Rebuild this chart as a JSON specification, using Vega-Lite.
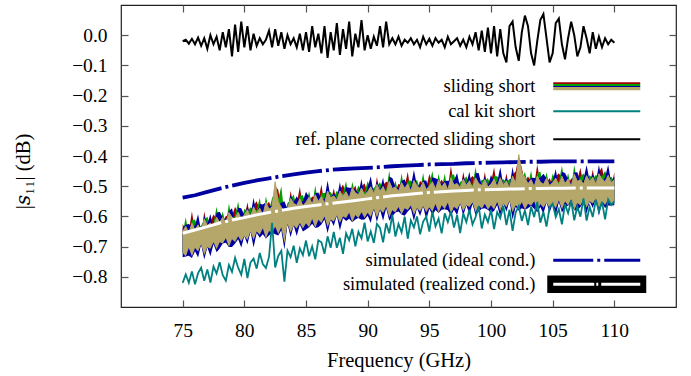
{
  "$schema": "https://vega.github.io/schema/vega-lite/v6.json",
  "autosize": "none",
  "width": 555,
  "height": 302,
  "padding": {"left": 121, "top": 5, "right": 15, "bottom": 69},
  "config": {
    "font": "Liberation Serif, Times New Roman, DejaVu Serif, serif",
    "view": {"stroke": "#222", "strokeWidth": 1.2},
    "axis": {"grid": false, "domain": false, "tickColor": "#555", "tickWidth": 1.2, "labelColor": "#000", "titleColor": "#000", "labelFont": "Liberation Serif, Times New Roman, DejaVu Serif, serif", "titleFont": "Liberation Serif, Times New Roman, DejaVu Serif, serif"},
    "legend": {"labelFont": "Liberation Serif, Times New Roman, DejaVu Serif, serif", "orient": "none", "title": null, "padding": 0, "symbolSize": 100, "labelAlign": "right", "labelBaseline": "middle", "labelOffset": -70.5, "labelFontSize": 18.5, "labelColor": "#000", "labelLimit": 400, "rowPadding": 7, "symbolOpacity": 1}
  },
  "datasets": {
    "m": [
      {"f":75,"r":-0.020,"c":-0.820,"tl":-0.720,"th":-0.650,"rh":-0.625,"gh":-0.655,"bh":-0.640,"bl":-0.735},
      {"f":75.25,"r":-0.015,"c":-0.792,"tl":-0.733,"th":-0.633,"rh":-0.643,"gh":-0.603,"bh":-0.628,"bl":-0.733},
      {"f":75.5,"r":-0.028,"c":-0.820,"tl":-0.705,"th":-0.655,"rh":-0.650,"gh":-0.665,"bh":-0.625,"bl":-0.730},
      {"f":75.75,"r":-0.012,"c":-0.782,"tl":-0.733,"th":-0.623,"rh":-0.583,"gh":-0.613,"bh":-0.633,"bl":-0.738},
      {"f":76,"r":-0.030,"c":-0.825,"tl":-0.705,"th":-0.645,"rh":-0.650,"gh":-0.610,"bh":-0.630,"bl":-0.715},
      {"f":76.25,"r":-0.008,"c":-0.788,"tl":-0.716,"th":-0.628,"rh":-0.613,"gh":-0.638,"bh":-0.593,"bl":-0.736},
      {"f":76.5,"r":-0.035,"c":-0.770,"tl":-0.693,"th":-0.650,"rh":-0.665,"gh":-0.630,"bh":-0.650,"bl":-0.693},
      {"f":76.75,"r":-0.010,"c":-0.813,"tl":-0.728,"th":-0.608,"rh":-0.583,"gh":-0.613,"bh":-0.598,"bl":-0.743},
      {"f":77,"r":-0.045,"c":-0.776,"tl":-0.702,"th":-0.630,"rh":-0.640,"gh":-0.600,"bh":-0.625,"bl":-0.702},
      {"f":77.25,"r":0.000,"c":-0.819,"tl":-0.707,"th":-0.622,"rh":-0.617,"gh":-0.632,"bh":-0.592,"bl":-0.732},
      {"f":77.5,"r":-0.030,"c":-0.766,"tl":-0.686,"th":-0.634,"rh":-0.594,"gh":-0.624,"bh":-0.644,"bl":-0.691},
      {"f":77.75,"r":-0.005,"c":-0.789,"tl":-0.709,"th":-0.603,"rh":-0.608,"gh":-0.568,"bh":-0.588,"bl":-0.719},
      {"f":78,"r":-0.050,"c":-0.752,"tl":-0.686,"th":-0.620,"rh":-0.605,"gh":-0.630,"bh":-0.585,"bl":-0.706},
      {"f":78.25,"r":0.010,"c":-0.795,"tl":-0.690,"th":-0.603,"rh":-0.618,"gh":-0.583,"bh":-0.603,"bl":-0.690},
      {"f":78.5,"r":-0.040,"c":-0.813,"tl":-0.672,"th":-0.624,"rh":-0.599,"gh":-0.629,"bh":-0.614,"bl":-0.687},
      {"f":78.75,"r":0.020,"c":-0.761,"tl":-0.701,"th":-0.587,"rh":-0.597,"gh":-0.557,"bh":-0.582,"bl":-0.701},
      {"f":79,"r":-0.070,"c":-0.784,"tl":-0.676,"th":-0.603,"rh":-0.598,"gh":-0.613,"bh":-0.573,"bl":-0.701},
      {"f":79.25,"r":0.035,"c":-0.737,"tl":-0.685,"th":-0.608,"rh":-0.568,"gh":-0.598,"bh":-0.618,"bl":-0.690},
      {"f":79.5,"r":-0.055,"c":-0.770,"tl":-0.666,"th":-0.586,"rh":-0.591,"gh":-0.551,"bh":-0.571,"bl":-0.676},
      {"f":79.75,"r":0.045,"c":-0.793,"tl":-0.683,"th":-0.608,"rh":-0.593,"gh":-0.618,"bh":-0.573,"bl":-0.703},
      {"f":80,"r":-0.040,"c":-0.741,"tl":-0.665,"th":-0.595,"rh":-0.610,"gh":-0.575,"bh":-0.595,"bl":-0.665},
      {"f":80.25,"r":0.030,"c":-0.804,"tl":-0.678,"th":-0.578,"rh":-0.553,"gh":-0.583,"bh":-0.568,"bl":-0.693},
      {"f":80.5,"r":-0.050,"c":-0.752,"tl":-0.650,"th":-0.600,"rh":-0.610,"gh":-0.570,"bh":-0.595,"bl":-0.650},
      {"f":80.75,"r":0.005,"c":-0.740,"tl":-0.678,"th":-0.568,"rh":-0.563,"gh":-0.578,"bh":-0.538,"bl":-0.703},
      {"f":81,"r":-0.035,"c":-0.773,"tl":-0.650,"th":-0.590,"rh":-0.550,"gh":-0.580,"bh":-0.600,"bl":-0.655},
      {"f":81.25,"r":-0.010,"c":-0.721,"tl":-0.661,"th":-0.573,"rh":-0.578,"gh":-0.538,"bh":-0.558,"bl":-0.671},
      {"f":81.5,"r":-0.030,"c":-0.758,"tl":-0.639,"th":-0.596,"rh":-0.581,"gh":-0.606,"bh":-0.561,"bl":-0.659},
      {"f":81.75,"r":-0.015,"c":-0.771,"tl":-0.673,"th":-0.553,"rh":-0.568,"gh":-0.533,"bh":-0.553,"bl":-0.673},
      {"f":82,"r":0.015,"c":-0.734,"tl":-0.648,"th":-0.576,"rh":-0.551,"gh":-0.581,"bh":-0.566,"bl":-0.663},
      {"f":82.25,"r":-0.040,"c":-0.621,"tl":-0.654,"th":-0.569,"rh":-0.579,"gh":-0.539,"bh":-0.564,"bl":-0.654},
      {"f":82.5,"r":0.020,"c":-0.769,"tl":-0.634,"th":-0.485,"rh":-0.500,"gh":-0.520,"bh":-0.530,"bl":-0.659},
      {"f":82.75,"r":-0.035,"c":-0.731,"tl":-0.658,"th":-0.552,"rh":-0.512,"gh":-0.542,"bh":-0.562,"bl":-0.663},
      {"f":83,"r":0.010,"c":-0.714,"tl":-0.636,"th":-0.570,"rh":-0.575,"gh":-0.500,"bh":-0.555,"bl":-0.646},
      {"f":83.25,"r":-0.045,"c":-0.816,"tl":-0.690,"th":-0.585,"rh":-0.570,"gh":-0.595,"bh":-0.550,"bl":-0.710},
      {"f":83.5,"r":0.000,"c":-0.713,"tl":-0.624,"th":-0.576,"rh":-0.591,"gh":-0.556,"bh":-0.576,"bl":-0.624},
      {"f":83.75,"r":-0.030,"c":-0.735,"tl":-0.654,"th":-0.540,"rh":-0.515,"gh":-0.545,"bh":-0.530,"bl":-0.669},
      {"f":84,"r":-0.010,"c":-0.697,"tl":-0.630,"th":-0.557,"rh":-0.567,"gh":-0.527,"bh":-0.552,"bl":-0.630},
      {"f":84.25,"r":-0.040,"c":-0.754,"tl":-0.640,"th":-0.563,"rh":-0.558,"gh":-0.573,"bh":-0.533,"bl":-0.665},
      {"f":84.5,"r":0.005,"c":-0.706,"tl":-0.622,"th":-0.542,"rh":-0.502,"gh":-0.532,"bh":-0.552,"bl":-0.627},
      {"f":84.75,"r":-0.050,"c":-0.728,"tl":-0.640,"th":-0.565,"rh":-0.570,"gh":-0.530,"bh":-0.550,"bl":-0.650},
      {"f":85,"r":0.010,"c":-0.680,"tl":-0.623,"th":-0.553,"rh":-0.538,"gh":-0.563,"bh":-0.518,"bl":-0.643},
      {"f":85.25,"r":-0.055,"c":-0.732,"tl":-0.636,"th":-0.536,"rh":-0.551,"gh":-0.516,"bh":-0.536,"bl":-0.636},
      {"f":85.5,"r":0.030,"c":-0.699,"tl":-0.609,"th":-0.559,"rh":-0.534,"gh":-0.564,"bh":-0.549,"bl":-0.624},
      {"f":85.75,"r":-0.040,"c":-0.742,"tl":-0.638,"th":-0.528,"rh":-0.538,"gh":-0.498,"bh":-0.523,"bl":-0.638},
      {"f":86,"r":0.005,"c":-0.679,"tl":-0.611,"th":-0.551,"rh":-0.546,"gh":-0.561,"bh":-0.521,"bl":-0.636},
      {"f":86.25,"r":-0.060,"c":-0.686,"tl":-0.622,"th":-0.534,"rh":-0.494,"gh":-0.524,"bh":-0.544,"bl":-0.627},
      {"f":86.5,"r":0.030,"c":-0.724,"tl":-0.600,"th":-0.557,"rh":-0.562,"gh":-0.522,"bh":-0.542,"bl":-0.610},
      {"f":86.75,"r":-0.075,"c":-0.666,"tl":-0.636,"th":-0.516,"rh":-0.501,"gh":-0.526,"bh":-0.481,"bl":-0.656},
      {"f":87,"r":0.010,"c":-0.704,"tl":-0.611,"th":-0.539,"rh":-0.554,"gh":-0.519,"bh":-0.539,"bl":-0.611},
      {"f":87.25,"r":-0.050,"c":-0.651,"tl":-0.617,"th":-0.532,"rh":-0.507,"gh":-0.537,"bh":-0.522,"bl":-0.632},
      {"f":87.5,"r":0.040,"c":-0.704,"tl":-0.597,"th":-0.545,"rh":-0.555,"gh":-0.515,"bh":-0.540,"bl":-0.597},
      {"f":87.75,"r":-0.065,"c":-0.671,"tl":-0.622,"th":-0.516,"rh":-0.511,"gh":-0.526,"bh":-0.486,"bl":-0.647},
      {"f":88,"r":0.020,"c":-0.724,"tl":-0.600,"th":-0.534,"rh":-0.494,"gh":-0.524,"bh":-0.544,"bl":-0.605},
      {"f":88.25,"r":-0.045,"c":-0.656,"tl":-0.605,"th":-0.518,"rh":-0.523,"gh":-0.483,"bh":-0.503,"bl":-0.615},
      {"f":88.5,"r":0.045,"c":-0.679,"tl":-0.588,"th":-0.540,"rh":-0.525,"gh":-0.550,"bh":-0.505,"bl":-0.608},
      {"f":88.75,"r":-0.070,"c":-0.641,"tl":-0.619,"th":-0.505,"rh":-0.520,"gh":-0.485,"bh":-0.505,"bl":-0.619},
      {"f":89,"r":0.005,"c":-0.699,"tl":-0.595,"th":-0.522,"rh":-0.497,"gh":-0.527,"bh":-0.512,"bl":-0.610},
      {"f":89.25,"r":-0.040,"c":-0.651,"tl":-0.605,"th":-0.528,"rh":-0.538,"gh":-0.498,"bh":-0.523,"bl":-0.605},
      {"f":89.5,"r":0.050,"c":-0.673,"tl":-0.586,"th":-0.506,"rh":-0.501,"gh":-0.516,"bh":-0.476,"bl":-0.611},
      {"f":89.75,"r":-0.050,"c":-0.621,"tl":-0.605,"th":-0.530,"rh":-0.490,"gh":-0.520,"bh":-0.540,"bl":-0.610},
      {"f":90,"r":0.000,"c":-0.683,"tl":-0.588,"th":-0.518,"rh":-0.523,"gh":-0.483,"bh":-0.503,"bl":-0.598},
      {"f":90.25,"r":-0.045,"c":-0.650,"tl":-0.602,"th":-0.502,"rh":-0.487,"gh":-0.512,"bh":-0.467,"bl":-0.622},
      {"f":90.5,"r":-0.005,"c":-0.688,"tl":-0.575,"th":-0.525,"rh":-0.540,"gh":-0.505,"bh":-0.525,"bl":-0.575},
      {"f":90.75,"r":-0.035,"c":-0.625,"tl":-0.604,"th":-0.494,"rh":-0.469,"gh":-0.499,"bh":-0.484,"bl":-0.619},
      {"f":91,"r":0.030,"c":-0.638,"tl":-0.577,"th":-0.517,"rh":-0.527,"gh":-0.487,"bh":-0.512,"bl":-0.577},
      {"f":91.25,"r":-0.040,"c":-0.686,"tl":-0.589,"th":-0.501,"rh":-0.496,"gh":-0.511,"bh":-0.471,"bl":-0.614},
      {"f":91.5,"r":0.045,"c":-0.623,"tl":-0.568,"th":-0.525,"rh":-0.485,"gh":-0.515,"bh":-0.535,"bl":-0.573},
      {"f":91.75,"r":-0.030,"c":-0.656,"tl":-0.604,"th":-0.484,"rh":-0.489,"gh":-0.449,"bh":-0.469,"bl":-0.614},
      {"f":92,"r":-0.010,"c":-0.594,"tl":-0.580,"th":-0.508,"rh":-0.493,"gh":-0.518,"bh":-0.473,"bl":-0.600},
      {"f":92.25,"r":-0.030,"c":-0.667,"tl":-0.587,"th":-0.502,"rh":-0.517,"gh":-0.482,"bh":-0.502,"bl":-0.587},
      {"f":92.5,"r":-0.005,"c":-0.625,"tl":-0.569,"th":-0.517,"rh":-0.492,"gh":-0.522,"bh":-0.507,"bl":-0.584},
      {"f":92.75,"r":-0.035,"c":-0.653,"tl":-0.594,"th":-0.488,"rh":-0.498,"gh":-0.458,"bh":-0.483,"bl":-0.594},
      {"f":93,"r":-0.015,"c":-0.601,"tl":-0.573,"th":-0.507,"rh":-0.502,"gh":-0.517,"bh":-0.477,"bl":-0.598},
      {"f":93.25,"r":-0.025,"c":-0.674,"tl":-0.579,"th":-0.492,"rh":-0.452,"gh":-0.482,"bh":-0.502,"bl":-0.584},
      {"f":93.5,"r":-0.010,"c":-0.613,"tl":-0.564,"th":-0.516,"rh":-0.521,"gh":-0.481,"bh":-0.501,"bl":-0.574},
      {"f":93.75,"r":-0.030,"c":-0.636,"tl":-0.595,"th":-0.481,"rh":-0.466,"gh":-0.491,"bh":-0.446,"bl":-0.615},
      {"f":94,"r":-0.015,"c":-0.600,"tl":-0.572,"th":-0.499,"rh":-0.514,"gh":-0.479,"bh":-0.499,"bl":-0.572},
      {"f":94.25,"r":-0.040,"c":-0.659,"tl":-0.584,"th":-0.507,"rh":-0.482,"gh":-0.512,"bh":-0.497,"bl":-0.599},
      {"f":94.5,"r":-0.005,"c":-0.617,"tl":-0.566,"th":-0.486,"rh":-0.496,"gh":-0.456,"bh":-0.481,"bl":-0.566},
      {"f":94.75,"r":-0.030,"c":-0.601,"tl":-0.586,"th":-0.511,"rh":-0.506,"gh":-0.521,"bh":-0.481,"bl":-0.611},
      {"f":95,"r":-0.012,"c":-0.650,"tl":-0.570,"th":-0.500,"rh":-0.460,"gh":-0.490,"bh":-0.510,"bl":-0.575},
      {"f":95.25,"r":-0.035,"c":-0.584,"tl":-0.585,"th":-0.485,"rh":-0.490,"gh":-0.450,"bh":-0.470,"bl":-0.595},
      {"f":95.5,"r":-0.010,"c":-0.633,"tl":-0.559,"th":-0.509,"rh":-0.494,"gh":-0.519,"bh":-0.474,"bl":-0.579},
      {"f":95.75,"r":-0.025,"c":-0.607,"tl":-0.589,"th":-0.479,"rh":-0.494,"gh":-0.459,"bh":-0.479,"bl":-0.589},
      {"f":96,"r":-0.015,"c":-0.656,"tl":-0.563,"th":-0.503,"rh":-0.478,"gh":-0.508,"bh":-0.493,"bl":-0.578},
      {"f":96.25,"r":-0.040,"c":-0.590,"tl":-0.576,"th":-0.488,"rh":-0.498,"gh":-0.458,"bh":-0.483,"bl":-0.576},
      {"f":96.5,"r":-0.005,"c":-0.619,"tl":-0.555,"th":-0.512,"rh":-0.507,"gh":-0.522,"bh":-0.482,"bl":-0.580},
      {"f":96.75,"r":-0.030,"c":-0.583,"tl":-0.592,"th":-0.472,"rh":-0.432,"gh":-0.462,"bh":-0.482,"bl":-0.597},
      {"f":97,"r":-0.020,"c":-0.637,"tl":-0.568,"th":-0.496,"rh":-0.501,"gh":-0.461,"bh":-0.481,"bl":-0.578},
      {"f":97.25,"r":-0.010,"c":-0.596,"tl":-0.576,"th":-0.491,"rh":-0.476,"gh":-0.501,"bh":-0.456,"bl":-0.596},
      {"f":97.5,"r":-0.035,"c":-0.655,"tl":-0.557,"th":-0.505,"rh":-0.520,"gh":-0.485,"bh":-0.505,"bl":-0.557},
      {"f":97.75,"r":-0.015,"c":-0.590,"tl":-0.583,"th":-0.477,"rh":-0.452,"gh":-0.482,"bh":-0.467,"bl":-0.598},
      {"f":98,"r":-0.040,"c":-0.619,"tl":-0.563,"th":-0.497,"rh":-0.507,"gh":-0.467,"bh":-0.492,"bl":-0.563},
      {"f":98.25,"r":-0.005,"c":-0.578,"tl":-0.569,"th":-0.482,"rh":-0.477,"gh":-0.492,"bh":-0.452,"bl":-0.594},
      {"f":98.5,"r":-0.030,"c":-0.627,"tl":-0.554,"th":-0.506,"rh":-0.466,"gh":-0.496,"bh":-0.516,"bl":-0.559},
      {"f":98.75,"r":0.010,"c":-0.602,"tl":-0.586,"th":-0.472,"rh":-0.477,"gh":-0.437,"bh":-0.457,"bl":-0.596},
      {"f":99,"r":-0.050,"c":-0.566,"tl":-0.564,"th":-0.491,"rh":-0.476,"gh":-0.501,"bh":-0.456,"bl":-0.584},
      {"f":99.25,"r":0.015,"c":-0.640,"tl":-0.575,"th":-0.498,"rh":-0.513,"gh":-0.478,"bh":-0.498,"bl":-0.575},
      {"f":99.5,"r":-0.055,"c":-0.594,"tl":-0.558,"th":-0.478,"rh":-0.453,"gh":-0.483,"bh":-0.468,"bl":-0.573},
      {"f":99.75,"r":0.025,"c":-0.619,"tl":-0.578,"th":-0.503,"rh":-0.513,"gh":-0.473,"bh":-0.498,"bl":-0.578},
      {"f":100,"r":-0.060,"c":-0.578,"tl":-0.563,"th":-0.493,"rh":-0.488,"gh":-0.503,"bh":-0.463,"bl":-0.588},
      {"f":100.25,"r":0.030,"c":-0.642,"tl":-0.577,"th":-0.477,"rh":-0.437,"gh":-0.467,"bh":-0.487,"bl":-0.582},
      {"f":100.5,"r":-0.070,"c":-0.586,"tl":-0.552,"th":-0.502,"rh":-0.507,"gh":-0.467,"bh":-0.487,"bl":-0.562},
      {"f":100.75,"r":0.020,"c":-0.606,"tl":-0.582,"th":-0.472,"rh":-0.457,"gh":-0.482,"bh":-0.437,"bl":-0.602},
      {"f":101,"r":-0.060,"c":-0.565,"tl":-0.557,"th":-0.497,"rh":-0.512,"gh":-0.477,"bh":-0.497,"bl":-0.557},
      {"f":101.25,"r":-0.090,"c":-0.629,"tl":-0.570,"th":-0.482,"rh":-0.457,"gh":-0.487,"bh":-0.472,"bl":-0.585},
      {"f":101.5,"r":0.030,"c":-0.578,"tl":-0.549,"th":-0.506,"rh":-0.516,"gh":-0.476,"bh":-0.501,"bl":-0.549},
      {"f":101.75,"r":0.045,"c":-0.648,"tl":-0.586,"th":-0.466,"rh":-0.461,"gh":-0.476,"bh":-0.436,"bl":-0.611},
      {"f":102,"r":-0.040,"c":-0.587,"tl":-0.563,"th":-0.491,"rh":-0.451,"gh":-0.481,"bh":-0.501,"bl":-0.568},
      {"f":102.25,"r":-0.085,"c":-0.566,"tl":-0.571,"th":-0.395,"rh":-0.400,"gh":-0.470,"bh":-0.470,"bl":-0.581},
      {"f":102.5,"r":0.010,"c":-0.615,"tl":-0.553,"th":-0.455,"rh":-0.440,"gh":-0.480,"bh":-0.465,"bl":-0.573},
      {"f":102.75,"r":0.065,"c":-0.580,"tl":-0.578,"th":-0.472,"rh":-0.487,"gh":-0.452,"bh":-0.472,"bl":-0.578},
      {"f":103,"r":0.030,"c":-0.629,"tl":-0.558,"th":-0.492,"rh":-0.467,"gh":-0.497,"bh":-0.482,"bl":-0.573},
      {"f":103.25,"r":-0.060,"c":-0.568,"tl":-0.565,"th":-0.478,"rh":-0.488,"gh":-0.448,"bh":-0.473,"bl":-0.565},
      {"f":103.5,"r":-0.100,"c":-0.602,"tl":-0.550,"th":-0.502,"rh":-0.497,"gh":-0.512,"bh":-0.472,"bl":-0.575},
      {"f":103.75,"r":-0.020,"c":-0.552,"tl":-0.581,"th":-0.467,"rh":-0.427,"gh":-0.457,"bh":-0.477,"bl":-0.586},
      {"f":104,"r":0.050,"c":-0.621,"tl":-0.559,"th":-0.486,"rh":-0.491,"gh":-0.451,"bh":-0.471,"bl":-0.569},
      {"f":104.25,"r":0.070,"c":-0.585,"tl":-0.571,"th":-0.494,"rh":-0.479,"gh":-0.504,"bh":-0.459,"bl":-0.591},
      {"f":104.5,"r":-0.010,"c":-0.634,"tl":-0.554,"th":-0.474,"rh":-0.489,"gh":-0.454,"bh":-0.474,"bl":-0.554},
      {"f":104.75,"r":-0.090,"c":-0.569,"tl":-0.573,"th":-0.498,"rh":-0.473,"gh":-0.503,"bh":-0.488,"bl":-0.588},
      {"f":105,"r":-0.060,"c":-0.558,"tl":-0.558,"th":-0.488,"rh":-0.498,"gh":-0.458,"bh":-0.483,"bl":-0.558},
      {"f":105.25,"r":0.040,"c":-0.602,"tl":-0.573,"th":-0.473,"rh":-0.468,"gh":-0.483,"bh":-0.443,"bl":-0.598},
      {"f":105.5,"r":0.055,"c":-0.576,"tl":-0.547,"th":-0.497,"rh":-0.457,"gh":-0.487,"bh":-0.507,"bl":-0.552},
      {"f":105.75,"r":-0.030,"c":-0.626,"tl":-0.577,"th":-0.467,"rh":-0.472,"gh":-0.432,"bh":-0.452,"bl":-0.587},
      {"f":106,"r":-0.080,"c":-0.560,"tl":-0.551,"th":-0.491,"rh":-0.476,"gh":-0.501,"bh":-0.456,"bl":-0.571},
      {"f":106.25,"r":-0.010,"c":-0.589,"tl":-0.564,"th":-0.476,"rh":-0.491,"gh":-0.456,"bh":-0.476,"bl":-0.564},
      {"f":106.5,"r":0.045,"c":-0.548,"tl":-0.543,"th":-0.500,"rh":-0.475,"gh":-0.505,"bh":-0.490,"bl":-0.558},
      {"f":106.75,"r":0.000,"c":-0.613,"tl":-0.580,"th":-0.460,"rh":-0.470,"gh":-0.430,"bh":-0.455,"bl":-0.580},
      {"f":107,"r":-0.070,"c":-0.567,"tl":-0.556,"th":-0.484,"rh":-0.479,"gh":-0.494,"bh":-0.454,"bl":-0.581},
      {"f":107.25,"r":-0.040,"c":-0.601,"tl":-0.564,"th":-0.479,"rh":-0.439,"gh":-0.469,"bh":-0.489,"bl":-0.569},
      {"f":107.5,"r":0.030,"c":-0.540,"tl":-0.545,"th":-0.493,"rh":-0.498,"gh":-0.458,"bh":-0.478,"bl":-0.555},
      {"f":107.75,"r":-0.010,"c":-0.614,"tl":-0.571,"th":-0.465,"rh":-0.450,"gh":-0.475,"bh":-0.430,"bl":-0.591},
      {"f":108,"r":-0.060,"c":-0.568,"tl":-0.550,"th":-0.484,"rh":-0.499,"gh":-0.464,"bh":-0.484,"bl":-0.550},
      {"f":108.25,"r":0.010,"c":-0.602,"tl":-0.557,"th":-0.470,"rh":-0.445,"gh":-0.475,"bh":-0.460,"bl":-0.572},
      {"f":108.5,"r":-0.045,"c":-0.545,"tl":-0.541,"th":-0.493,"rh":-0.503,"gh":-0.463,"bh":-0.488,"bl":-0.541},
      {"f":108.75,"r":-0.005,"c":-0.584,"tl":-0.573,"th":-0.459,"rh":-0.454,"gh":-0.469,"bh":-0.429,"bl":-0.598},
      {"f":109,"r":-0.040,"c":-0.552,"tl":-0.550,"th":-0.477,"rh":-0.437,"gh":-0.467,"bh":-0.487,"bl":-0.555},
      {"f":109.25,"r":-0.010,"c":-0.610,"tl":-0.562,"th":-0.485,"rh":-0.490,"gh":-0.450,"bh":-0.470,"bl":-0.572},
      {"f":109.5,"r":-0.030,"c":-0.544,"tl":-0.544,"th":-0.464,"rh":-0.449,"gh":-0.474,"bh":-0.429,"bl":-0.564},
      {"f":109.75,"r":-0.015,"c":-0.562,"tl":-0.564,"th":-0.489,"rh":-0.504,"gh":-0.469,"bh":-0.489,"bl":-0.564},
      {"f":110,"r":-0.025,"c":-0.550,"tl":-0.548,"th":-0.478,"rh":-0.453,"gh":-0.483,"bh":-0.468,"bl":-0.563}
    ],
    "s": [
      {"f":75,"ideal":-0.538,"real":-0.656},{"f":76,"ideal":-0.530,"real":-0.645},{"f":77,"ideal":-0.519,"real":-0.634},
      {"f":78,"ideal":-0.508,"real":-0.622},{"f":79,"ideal":-0.498,"real":-0.612},{"f":80,"ideal":-0.489,"real":-0.604},
      {"f":81,"ideal":-0.481,"real":-0.595},{"f":82,"ideal":-0.474,"real":-0.587},{"f":83,"ideal":-0.467,"real":-0.580},
      {"f":84,"ideal":-0.461,"real":-0.573},{"f":85,"ideal":-0.455,"real":-0.567},{"f":86,"ideal":-0.450,"real":-0.562},
      {"f":87,"ideal":-0.446,"real":-0.557},{"f":88,"ideal":-0.443,"real":-0.552},{"f":89,"ideal":-0.441,"real":-0.547},
      {"f":90,"ideal":-0.439,"real":-0.542},{"f":91,"ideal":-0.437,"real":-0.537},{"f":92,"ideal":-0.434,"real":-0.532},
      {"f":93,"ideal":-0.432,"real":-0.528},{"f":94,"ideal":-0.430,"real":-0.524},{"f":95,"ideal":-0.428,"real":-0.521},
      {"f":96,"ideal":-0.427,"real":-0.518},{"f":97,"ideal":-0.426,"real":-0.516},{"f":98,"ideal":-0.424,"real":-0.514},
      {"f":99,"ideal":-0.423,"real":-0.512},{"f":100,"ideal":-0.422,"real":-0.511},{"f":101,"ideal":-0.421,"real":-0.510},
      {"f":102,"ideal":-0.420,"real":-0.509},{"f":103,"ideal":-0.419,"real":-0.508},{"f":104,"ideal":-0.419,"real":-0.508},
      {"f":105,"ideal":-0.418,"real":-0.507},{"f":106,"ideal":-0.418,"real":-0.507},{"f":107,"ideal":-0.418,"real":-0.506},
      {"f":108,"ideal":-0.418,"real":-0.506},{"f":109,"ideal":-0.418,"real":-0.506},{"f":110,"ideal":-0.418,"real":-0.506}
    ]
  },
  "resolve": {"axis": {"x": "independent", "y": "independent"}},
  "layer": [
    {
      "data": {"name": "s"},
      "mark": {"type": "line", "color": "#0000a0", "strokeWidth": 3.8},
      "encoding": {
        "x": {"field": "f", "type": "quantitative", "scale": {"domain": [70, 115], "nice": false, "zero": false}, "axis": null},
        "y": {"field": "ideal", "type": "quantitative", "scale": {"domain": [-0.9, 0.1], "nice": false, "zero": false}, "axis": null},
        "strokeDash": {
          "datum": "simulated (ideal cond.)",
          "scale": {"domain": ["simulated (ideal cond.)"], "range": [[40, 4, 3, 4]]},
          "legend": {"legendX": 466.5, "legendY": 246, "symbolType": "M-8.7,0H8.7", "symbolStrokeWidth": 3}
        }
      }
    },
    {
      "data": {"name": "m"},
      "mark": {"type": "area", "color": "#a00000"},
      "encoding": {
        "x": {"field": "f", "type": "quantitative", "scale": {"domain": [70, 115], "nice": false, "zero": false}, "axis": null},
        "y": {"field": "tl", "type": "quantitative", "scale": {"domain": [-0.9, 0.1], "nice": false, "zero": false}, "axis": null},
        "y2": {"field": "rh"}
      }
    },
    {
      "data": {"name": "m"},
      "mark": {"type": "area", "color": "#00a000"},
      "encoding": {
        "x": {"field": "f", "type": "quantitative", "scale": {"domain": [70, 115], "nice": false, "zero": false}, "axis": null},
        "y": {"field": "tl", "type": "quantitative", "scale": {"domain": [-0.9, 0.1], "nice": false, "zero": false}, "axis": null},
        "y2": {"field": "gh"}
      }
    },
    {
      "data": {"name": "m"},
      "mark": {"type": "area", "color": "#0000a0"},
      "encoding": {
        "x": {"field": "f", "type": "quantitative", "scale": {"domain": [70, 115], "nice": false, "zero": false}, "axis": null},
        "y": {"field": "bl", "type": "quantitative", "scale": {"domain": [-0.9, 0.1], "nice": false, "zero": false}, "axis": null},
        "y2": {"field": "bh"}
      }
    },
    {
      "data": {"name": "m"},
      "mark": {"type": "area", "color": "#b5a66a"},
      "encoding": {
        "x": {"field": "f", "type": "quantitative", "scale": {"domain": [70, 115], "nice": false, "zero": false}, "axis": null},
        "y": {"field": "tl", "type": "quantitative", "scale": {"domain": [-0.9, 0.1], "nice": false, "zero": false}, "axis": null},
        "y2": {"field": "th"}
      }
    },
    {
      "data": {"name": "m"},
      "mark": {"type": "line", "color": "#b5a66a", "strokeWidth": 1},
      "encoding": {
        "x": {"field": "f", "type": "quantitative", "scale": {"domain": [70, 115], "nice": false, "zero": false}, "axis": null},
        "y": {"field": "th", "type": "quantitative", "scale": {"domain": [-0.9, 0.1], "nice": false, "zero": false}, "axis": null},
        "opacity": {
          "datum": "sliding short",
          "scale": {"type": "ordinal", "domain": ["sliding short"], "range": [1]},
          "legend": {"legendX": 466.5, "legendY": 72, "symbolType": "M-8.7,-0.8H8.7V0.8H-8.7Z", "symbolStrokeWidth": 0,
            "symbolFillColor": {"value": {"gradient": "linear", "x1": 0, "y1": 0, "x2": 0, "y2": 1, "stops": [
              {"offset": 0, "color": "#a00000"}, {"offset": 0.22, "color": "#a00000"},
              {"offset": 0.22, "color": "#00a000"}, {"offset": 0.45, "color": "#00a000"},
              {"offset": 0.45, "color": "#0000a0"}, {"offset": 0.62, "color": "#0000a0"},
              {"offset": 0.62, "color": "#b5a66a"}, {"offset": 1, "color": "#b5a66a"}]}}}
        }
      }
    },
    {
      "data": {"name": "m"},
      "mark": {"type": "line", "strokeWidth": 1.8},
      "encoding": {
        "x": {"field": "f", "type": "quantitative", "scale": {"domain": [70, 115], "nice": false, "zero": false},
          "axis": {"orient": "top", "values": [75, 80, 85, 90, 95, 100, 105, 110], "labels": false, "title": null, "tickSize": -7}},
        "y": {"field": "c", "type": "quantitative", "scale": {"domain": [-0.9, 0.1], "nice": false, "zero": false},
          "axis": {"orient": "right", "values": [0, -0.1, -0.2, -0.3, -0.4, -0.5, -0.6, -0.7, -0.8], "labels": false, "title": null, "tickSize": -7}},
        "color": {
          "datum": "cal kit short",
          "scale": {"domain": ["cal kit short", "ref. plane corrected sliding short"], "range": ["#008080", "#000000"]},
          "legend": {"legendX": 466.5, "legendY": 97, "symbolType": "M-8.7,0H8.7", "symbolStrokeWidth": 2.2, "rowPadding": 9}
        }
      }
    },
    {
      "data": {"name": "m"},
      "mark": {"type": "line", "strokeWidth": 2},
      "encoding": {
        "x": {"field": "f", "type": "quantitative", "scale": {"domain": [70, 115], "nice": false, "zero": false},
          "axis": {"orient": "bottom", "values": [75, 80, 85, 90, 95, 100, 105, 110], "title": "Frequency (GHz)", "tickSize": -7, "labelPadding": 21,
            "labelFontSize": 19.5, "titleFontSize": 20.5, "titleFontWeight": "normal", "titleY": 53, "titleBaseline": "middle"}},
        "y": {"field": "r", "type": "quantitative", "scale": {"domain": [-0.9, 0.1], "nice": false, "zero": false},
          "axis": {"orient": "left", "values": [0, -0.1, -0.2, -0.3, -0.4, -0.5, -0.6, -0.7, -0.8], "format": ".1f", "title": "|𝑠₁₁| (dB)", "tickSize": -7, "labelPadding": 21,
            "labelFontSize": 19.5, "titleFontSize": 20.5, "titleFontWeight": "normal", "titleX": -98, "titleY": 166, "titleBaseline": "middle", "titleAngle": -90}},
        "color": {"datum": "ref. plane corrected sliding short"}
      }
    },
    {
      "data": {"name": "s"},
      "mark": {"type": "line", "color": "#ffffff", "strokeWidth": 3, "strokeDash": [40, 4, 3, 4]},
      "encoding": {
        "x": {"field": "f", "type": "quantitative", "scale": {"domain": [70, 115], "nice": false, "zero": false}, "axis": null},
        "y": {"field": "real", "type": "quantitative", "scale": {"domain": [-0.9, 0.1], "nice": false, "zero": false}, "axis": null},
        "strokeWidth": {
          "datum": "simulated (realized cond.)",
          "scale": {"type": "ordinal", "domain": ["simulated (realized cond.)"], "range": [3]},
          "legend": {"legendX": 466.5, "legendY": 270, "symbolType": "M-10.2,-2.03H10.2V2.03H-10.2Z M-8.7,0H-0.5 M-0.1,0H0.3 M0.9,0H8.7",
            "symbolFillColor": "#000000", "symbolStrokeColor": "#ffffff"}
        }
      }
    }
  ]
}
